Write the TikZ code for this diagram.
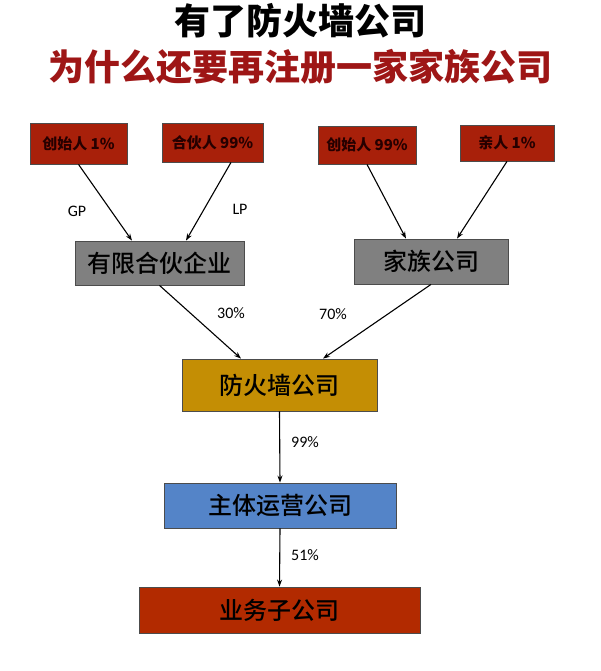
\documentclass[tikz,border=0pt]{standalone}
\usepackage{fontspec}
\usepackage{tikz}
\usetikzlibrary{arrows.meta,positioning}
\newfontfamily\cjk{Noto Sans CJK SC}
\newfontfamily\cjkmed{Noto Sans CJK SC Medium}
\newfontfamily\lab{Carlito}
\definecolor{titlered}{RGB}{158,22,22}
\definecolor{boxred}{RGB}{168,32,10}
\definecolor{subred}{RGB}{178,42,0}
\definecolor{boxgray}{RGB}{128,128,128}
\definecolor{boxgold}{RGB}{196,142,4}
\definecolor{boxblue}{RGB}{84,132,200}

\begin{document}
\begin{tikzpicture}[x=1pt,y=-1pt,
  owner/.style={draw=black!70,line width=0.8pt,fill=boxred,inner sep=0pt,text=black!85!red,font=\cjk\bfseries\fontsize{15}{17}\selectfont},
  entity/.style={draw=black!70,line width=0.8pt,inner sep=0pt,font=\cjkmed\fontsize{24}{28}\selectfont},
  share/.style={font=\lab\fontsize{16}{18}\selectfont},
  hold/.style={line width=1.1pt,-{Stealth[length=7pt,width=5pt]}}]
\useasboundingbox (0,0) rectangle (600,671);
% heading
\node (t1) at (300,21) {\cjk\bfseries\fontsize{36}{40}\selectfont 有了防火墙公司};
\node (t2) at (300,67) {\cjk\bfseries\fontsize{36}{40}\selectfont\color{titlered}为什么还要再注册一家家族公司};
% owners
\node[owner,minimum width=97pt,minimum height=41pt] (f1) at (78.5,143.5) {创始人 1\%};
\node[owner,minimum width=101pt,minimum height=39pt] (p1) at (212.5,142.5) {合伙人 99\%};
\node[owner,minimum width=98pt,minimum height=38pt] (f2) at (367,145) {创始人 99\%};
\node[owner,minimum width=94pt,minimum height=36pt] (r1) at (507,143) {亲人 1\%};
% holding chain
\node[entity,fill=boxgray,minimum width=169pt,minimum height=44pt] (lpart) at (159.5,263) {有限合伙企业};
\node[entity,fill=boxgray,minimum width=154pt,minimum height=45pt] (fam) at (431,261.5) {家族公司};
\node[entity,fill=boxgold,minimum width=195pt,minimum height=52pt] (fw) at (279.5,385) {防火墙公司};
\node[entity,fill=boxblue,minimum width=232pt,minimum height=45pt] (op) at (280,505.5) {主体运营公司};
\node[entity,fill=subred,minimum width=281pt,minimum height=46pt] (sub) at (279.5,610) {业务子公司};
\draw[hold] (f1.south) -- ([xshift=-27.5pt]lpart.north);
\draw[hold] ([xshift=18.5pt]p1.south) -- ([xshift=26.5pt]lpart.north);
\draw[hold] (f2.south) -- ([xshift=-25pt]fam.north);
\draw[hold] (r1.south) -- ([xshift=26pt]fam.north);
\draw[hold] (lpart.south) -- ([xshift=-38.5pt]fw.north);
\draw[hold] (fam.south) -- ([xshift=43.5pt]fw.north);
\draw[hold] (fw.south) -- (op.north);
\draw[hold] (op.south) -- (sub.north);
% shares
\node[share] (gp) at (77,211) {GP};
\node[share] (lp) at (240,209) {LP};
\node[share] (s30) at (231,313) {30\%};
\node[share] (s70) at (333,314) {70\%};
\node[share] (s99) at (305,442) {99\%};
\node[share] (s51) at (305,555) {51\%};
\end{tikzpicture}
\end{document}
